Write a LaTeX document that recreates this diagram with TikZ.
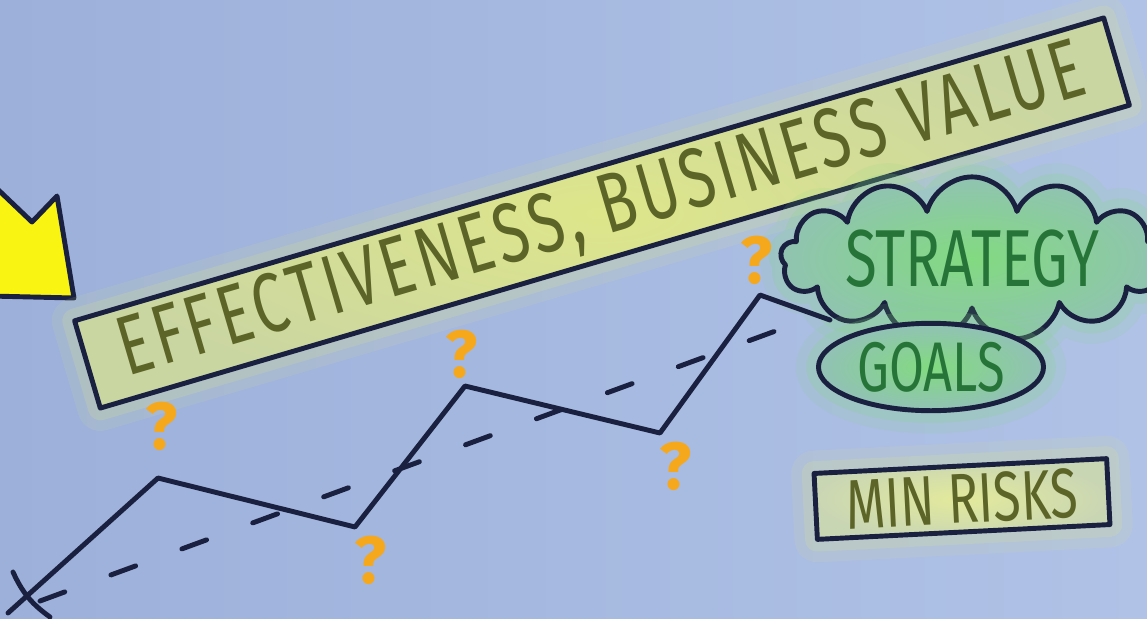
\documentclass[tikz,border=0pt]{standalone}
\usepackage{fontspec}
\setmainfont{Fira Sans}
\newfontfamily\handfont[FakeStretch=0.72]{Fira Sans}
\newfontfamily\bannerfont[FakeStretch=0.72, LetterSpace=5]{Fira Sans}
\usetikzlibrary{shapes.geometric,shapes.symbols,positioning}
\definecolor{paper}{RGB}{156,176,218}
\definecolor{paperlight}{RGB}{176,194,230}
\definecolor{ink}{RGB}{26,32,64}
\definecolor{olive}{RGB}{92,100,40}
\definecolor{glowyellow}{RGB}{222,230,138}
\definecolor{glowgreen}{RGB}{130,218,128}
\definecolor{leaf}{RGB}{38,116,56}
\definecolor{marker}{RGB}{250,244,18}
\definecolor{qorange}{RGB}{246,168,28}
\tikzset{
  inkline/.style={draw=ink, line width=2.8pt, line cap=round, line join=round},
  halo/.style={
    preaction={draw=#1, line width=26pt, draw opacity=0.12},
    preaction={draw=#1, line width=14pt, draw opacity=0.2}
  },
  bannerbox/.style={
    inkline, halo=glowyellow, rectangle, inner sep=2pt,
    inner color=glowyellow, outer color=glowyellow!70!paper,
    text=olive, font=\bannerfont\fontsize{48}{48}\selectfont
  },
  cloudbox/.style={
    inkline, halo=glowgreen, cloud, cloud puffs=13, cloud ignores aspect,
    inner color=glowgreen, outer color=glowgreen!45!paper,
    text=leaf, font=\handfont\fontsize{46}{46}\selectfont
  },
  goalbox/.style={
    inkline, halo=glowgreen, ellipse,
    inner color=glowgreen, outer color=glowgreen!40!paper,
    text=leaf, font=\handfont\fontsize{40}{40}\selectfont
  },
  riskbox/.style={
    inkline, halo=glowyellow, rectangle,
    inner color=glowyellow!85!white, outer color=glowyellow!55!paperlight,
    text=olive, font=\handfont\fontsize{40}{40}\selectfont
  },
  qmark/.style={text=qorange, font=\bfseries\fontsize{38}{38}\selectfont, inner sep=0pt}
}
\begin{document}
\begin{tikzpicture}[x=0.02cm, y=-0.02cm]
  \useasboundingbox (0,0) rectangle (1147,619);
  \fill[left color=paper, right color=paperlight] (0,0) rectangle (1147,619);

  % yellow arrow, cut by the left edge
  \draw[inkline, fill=marker] (-10,182) -- (32,222) -- (57,196) -- (74,298) -- (-10,296) -- cycle;

  % title banner
  \node[bannerbox, rotate=16.4, minimum width=21.46cm, minimum height=1.82cm] (banner) at (602,213) {EFFECTIVENESS, BUSINESS VALUE};

  % right hand notes
  \node[cloudbox, minimum width=6.8cm, minimum height=2.6cm] (strategy) at (972,259) {STRATEGY};
  \node[goalbox, minimum width=4.36cm, minimum height=1.4cm] (goals) at (931,367) {GOALS};
  \node[riskbox, rotate=2.9, minimum width=5.86cm, minimum height=1.32cm] (risks) at (962,499) {MIN RISKS};

  % zigzag path and trend
  \coordinate (p0) at (8,613);
  \coordinate (p1) at (158,478);
  \coordinate (p2) at (355,527);
  \coordinate (p3) at (465,386);
  \coordinate (p4) at (660,433);
  \coordinate (p5) at (760,295);
  \coordinate (p6) at (830,320);
  \coordinate (t0) at (40,601);
  \coordinate (t1) at (800,322);
  \coordinate (x0) at (13,572);
  \coordinate (x1) at (50,617);
  \draw[inkline, dash pattern=on 15pt off 28pt] (t0) -- (t1);
  \draw[inkline] (p0) -- (p1) -- (p2) -- (p3) -- (p4) -- (p5) -- (p6);
  \draw[inkline] (x0) to[bend right=15] (x1);

  % question marks
  \node[qmark] (q1) at (162,426) {?};
  \node[qmark] (q2) at (371,560) {?};
  \node[qmark] (q3) at (462,354) {?};
  \node[qmark] (q4) at (676,466) {?};
  \node[qmark] (q5) at (757,260) {?};
\end{tikzpicture}
\end{document}
